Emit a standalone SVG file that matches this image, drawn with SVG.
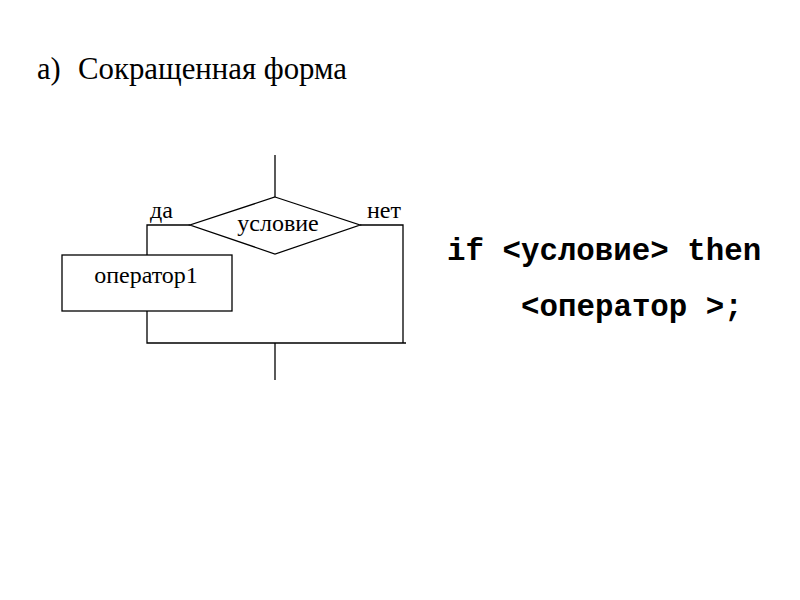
<svg xmlns="http://www.w3.org/2000/svg" width="800" height="600" viewBox="0 0 800 600">
<style>
.ln{stroke:#000;stroke-width:1.3;fill:none}
.sh{stroke:#000;stroke-width:1.3;fill:#fff}
.t{font-family:"Liberation Serif",serif;fill:#000}
.c{font-family:"Liberation Mono",monospace;font-weight:bold;fill:#000;font-size:30.8px}
</style>
<rect width="800" height="600" fill="#fff"/>
<text class="t" x="37" y="79" font-size="30.5">a)</text>
<text class="t" x="78" y="79" font-size="30.5" textLength="269" lengthAdjust="spacingAndGlyphs">Сокращенная форма</text>
<g id="connectors">
<path class="ln" d="M275,155 V197"/>
<path class="ln" d="M190,225 H147 V255"/>
<path class="ln" d="M360,225 H403 V343"/>
<path class="ln" d="M147,311 V343 H406"/>
<path class="ln" d="M275,343 V380"/>
</g>
<g id="cond">
<polygon class="sh" points="275,197 360,225 275,254 190,225"/>
<text class="t" x="278" y="231" font-size="24" text-anchor="middle">условие</text>
</g>
<g id="op1">
<rect class="sh" x="62" y="255" width="170" height="56"/>
<text class="t" x="146" y="283" font-size="24" text-anchor="middle">оператор1</text>
</g>
<g id="labels">
<text class="t" x="150" y="218" font-size="24">да</text>
<text class="t" x="367" y="218" font-size="24">нет</text>
</g>
<g id="code">
<text class="c" x="447" y="260">if &lt;условие&gt; then</text>
<text class="c" x="521" y="316">&lt;оператор &gt;;</text>
</g>
</svg>
